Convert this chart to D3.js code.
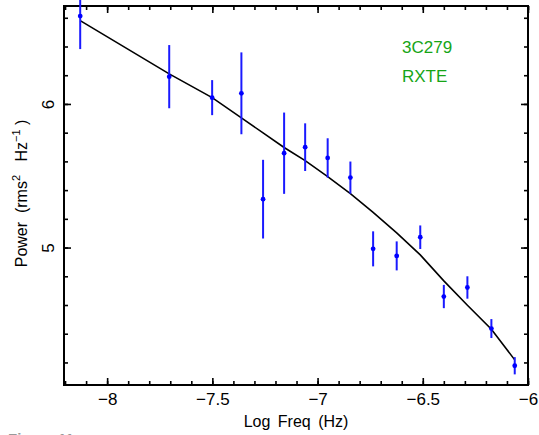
<!DOCTYPE html>
<html>
<head>
<meta charset="utf-8">
<script src="https://cdn.jsdelivr.net/npm/d3@7"></script>
<style>
  html, body { margin: 0; padding: 0; background: #fff; }
  svg { display: block; }
  text { font-family: "Liberation Sans", Arial, sans-serif; white-space: pre; }
</style>
</head>
<body>
<svg id="chart" width="539" height="435"></svg>
<script>
// Power spectrum of 3C279 (RXTE): log frequency vs power with 1-sigma errors
const logFreq = [-8.128, -7.705, -7.501, -7.362, -7.259, -7.159, -7.059, -6.952,
                 -6.844, -6.736, -6.624, -6.512, -6.400, -6.288, -6.174, -6.063];
const power   = [6.612, 6.190, 6.044, 6.074, 5.337, 5.657, 5.699, 5.624,
                 5.487, 4.991, 4.942, 5.072, 4.659, 4.722, 4.436, 4.177];
const powerErr = [0.23, 0.22, 0.122, 0.285, 0.274, 0.283, 0.166, 0.137,
                  0.112, 0.122, 0.101, 0.082, 0.081, 0.078, 0.066, 0.060];
// Bending power-law model evaluated at the same frequencies
const modelPower = [6.580, 6.209, 6.044, 5.903, 5.798, 5.697, 5.605, 5.494,
                    5.375, 5.245, 5.102, 4.949, 4.768, 4.598, 4.431, 4.218];

const xMajorTicks = [-8, -7.5, -7, -6.5, -6];
const yMajorTicks = [5, 6];
const xMinorTicks = d3.range(-8.2, -5.99, 0.1).map(v => +v.toFixed(1));
const yMinorTicks = d3.range(4.2, 6.61, 0.2).map(v => +v.toFixed(1));

const labels = ["3C279", "RXTE"];

const svg = d3.select("#chart");
const plotL = 64, plotR = 528, plotT = 6, plotB = 385;

const x = d3.scaleLinear().domain([-8.205, -6]).range([plotL, plotR]);
const y = d3.scaleLinear().domain([4.043, 6.682]).range([plotB, plotT]);

const fmt = d3.format("");

// inward-pointing ticks on all four sides
function tickAxis(axisFn, scale, values, size, transform, withLabels) {
  const ax = axisFn(scale).tickValues(values).tickSizeInner(size).tickSizeOuter(0)
    .tickFormat(withLabels ? fmt : "");
  const g = svg.append("g").attr("transform", transform).call(ax);
  g.select(".domain").remove();
  g.selectAll(".tick line").attr("stroke", "#000").attr("stroke-width", 1.6);
  return g;
}

const MAJ = -7, MIN = -4;
// bottom
const gx = tickAxis(d3.axisBottom, x, xMajorTicks, MAJ, `translate(0,${plotB})`, true);
gx.selectAll(".tick text").attr("y", 8).attr("dy", "0.71em")
  .attr("font-size", 17).attr("fill", "#000");
tickAxis(d3.axisBottom, x, xMinorTicks, MIN, `translate(0,${plotB})`, false);
// top
tickAxis(d3.axisTop, x, xMajorTicks, MAJ, `translate(0,${plotT})`, false);
tickAxis(d3.axisTop, x, xMinorTicks, MIN, `translate(0,${plotT})`, false);
// left
const gy = tickAxis(d3.axisLeft, y, yMajorTicks, MAJ, `translate(${plotL},0)`, true);
gy.selectAll(".tick text")
  .attr("x", null).attr("dy", null)
  .attr("text-anchor", "middle")
  .attr("transform", "translate(-10,0) rotate(-90)")
  .attr("font-size", 17).attr("fill", "#000");
tickAxis(d3.axisLeft, y, yMinorTicks, MIN, `translate(${plotL},0)`, false);
// right
tickAxis(d3.axisRight, y, yMajorTicks, MAJ, `translate(${plotR},0)`, false);
tickAxis(d3.axisRight, y, yMinorTicks, MIN, `translate(${plotR},0)`, false);

// frame
svg.append("rect")
  .attr("x", plotL).attr("y", plotT)
  .attr("width", plotR - plotL).attr("height", plotB - plotT)
  .attr("fill", "none").attr("stroke", "#000").attr("stroke-width", 2);

// model curve
svg.append("path")
  .datum(logFreq.map((f, i) => [f, modelPower[i]]))
  .attr("fill", "none").attr("stroke", "#000").attr("stroke-width", 1.6)
  .attr("d", d3.line().x(d => x(d[0])).y(d => y(d[1])));

// data with error bars
const pts = logFreq.map((f, i) => ({ f, p: power[i], e: powerErr[i] }));
svg.append("g").selectAll("line").data(pts).join("line")
  .attr("x1", d => x(d.f)).attr("x2", d => x(d.f))
  .attr("y1", d => y(d.p + d.e)).attr("y2", d => y(d.p - d.e))
  .attr("stroke", "#1a1aff").attr("stroke-width", 2);
svg.append("g").selectAll("circle").data(pts).join("circle")
  .attr("cx", d => x(d.f)).attr("cy", d => y(d.p)).attr("r", 2.4)
  .attr("fill", "#0000ff");

// source / instrument labels
svg.append("g").selectAll("text").data(labels).join("text")
  .attr("x", 402).attr("y", (d, i) => 53 + i * 28.5)
  .attr("font-size", 17).attr("fill", "#16a516")
  .text(d => d);

// axis titles
svg.append("text")
  .attr("x", (plotL + plotR) / 2).attr("y", 427)
  .attr("text-anchor", "middle").attr("font-size", 16).attr("fill", "#000")
  .attr("word-spacing", 3)
  .text("Log Freq (Hz)");

const yt = svg.append("text")
  .attr("transform", `translate(27,${(plotT + plotB) / 2 - 2}) rotate(-90)`)
  .attr("text-anchor", "middle").attr("font-size", 16).attr("fill", "#000");
yt.append("tspan").text("Power  (rms");
yt.append("tspan").attr("dy", -7).attr("font-size", 11).text("2");
yt.append("tspan").attr("dy", 7).text("   Hz");
yt.append("tspan").attr("dy", -7).attr("font-size", 11).text("\u22121");
yt.append("tspan").attr("dy", 7).text(" )");

// caption line below the figure
svg.append("text")
  .attr("x", 8).attr("y", 444).attr("font-size", 15).attr("font-weight", "bold")
  .attr("fill", "#999").text("Figure 11.");
svg.append("text")
  .attr("x", 470).attr("y", 444).attr("font-size", 13)
  .attr("fill", "#aaa").text("of 2000");
</script>
</body>
</html>
